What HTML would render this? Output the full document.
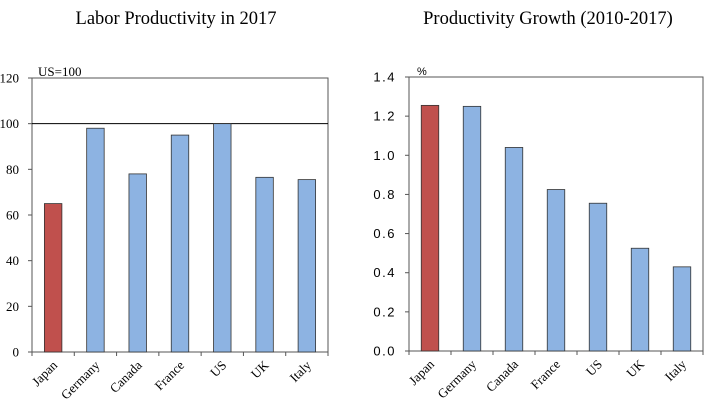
<!DOCTYPE html>
<html><head><meta charset="utf-8"><style>
body{margin:0;background:#fff;width:716px;height:404px;overflow:hidden}
svg text{font-family:"Liberation Serif",serif;fill:#000}
</style></head><body>
<svg id="s" width="716" height="404">
<text x="176" y="24" font-size="18.5" text-anchor="middle">Labor Productivity in 2017</text>
<text x="548" y="24" font-size="18.5" text-anchor="middle">Productivity Growth (2010-2017)</text>
</svg>
<script>
const categories=["Japan","Germany","Canada","France","US","UK","Italy"];
const levelValues=[65,98,78,95,100,76.5,75.5];
const growthValues=[1.255,1.25,1.04,0.825,0.755,0.525,0.43];
const levelTicks=["0","20","40","60","80","100","120"];
const growthTicks=["0.0","0.2","0.4","0.6","0.8","1.0","1.2","1.4"];
const svg=document.getElementById('s');
const NS='http://www.w3.org/2000/svg';
function mk(t,a){const e=document.createElementNS(NS,t);for(const k in a)e.setAttribute(k,a[k]);svg.appendChild(e);return e;}
function chart(o){
 const {x0,x1,y0,y1,max,vals,ticks,tickFont,unit,unitX,unitFont,prefix,refLine}=o;
 const ys=v=>y1-(v/max)*(y1-y0);
 const cw=(x1-x0)/categories.length;
 const xs=i=>x0+cw*(i+0.5);
 const f=mk('rect',{x:x0,y:y0,width:x1-x0,height:y1-y0,fill:'none',stroke:'#555','stroke-width':1});
 
 
 if(refLine!=null){const l=mk('line',{x1:x0,x2:x1,y1:ys(refLine),y2:ys(refLine),stroke:'#000','stroke-width':1});
  
  }
 ticks.forEach((t,i)=>{const v=parseFloat(t);const y=ys(v);
  const tk=mk('line',{x1:x0-4,x2:x0,y1:y,y2:y,stroke:'#555'});
  
  
  const tx=mk('text',{x:x0-13,y:y+4.5,'font-size':13,'text-anchor':'end',style:tickFont});
  tx.textContent=t;
  
  });
 const u=mk('text',{x:unitX,y:y0-2,'font-size':unitFont[0],style:unitFont[1]});
 u.textContent=unit;
 
 
 for(let i=0;i<=categories.length;i++){const x=x0+cw*i;
  const tk=mk('line',{x1:x,x2:x,y1:y1,y2:y1+4,stroke:'#555'});
  
  }
 vals.forEach((v,i)=>{const w=17.5;
  const r=mk('rect',{x:xs(i)-w/2,y:ys(v),width:w,height:y1-ys(v),fill:i==0?'#c0504d':'#8db3e2',stroke:'#333','stroke-width':0.8});
  
  
  const t=mk('text',{x:xs(i)+5,y:y1+14,'font-size':13,'text-anchor':'end',transform:`rotate(-45 ${xs(i)+5} ${y1+14})`});
  t.textContent=categories[i];
  
  });
}
chart({x0:32,x1:328,y0:78,y1:352,max:120,vals:levelValues,ticks:levelTicks,tickFont:'',unit:'US=100',unitX:38,unitFont:[13,''],prefix:'level',refLine:100});
chart({x0:409,x1:703,y0:77,y1:351,max:1.4,vals:growthValues,ticks:growthTicks,tickFont:'font-family:"Liberation Sans",sans-serif;letter-spacing:1.5px',unit:'%',unitX:417,unitFont:[11,'font-family:"Liberation Sans",sans-serif'],prefix:'growth',refLine:null});
</script>
</body></html>
